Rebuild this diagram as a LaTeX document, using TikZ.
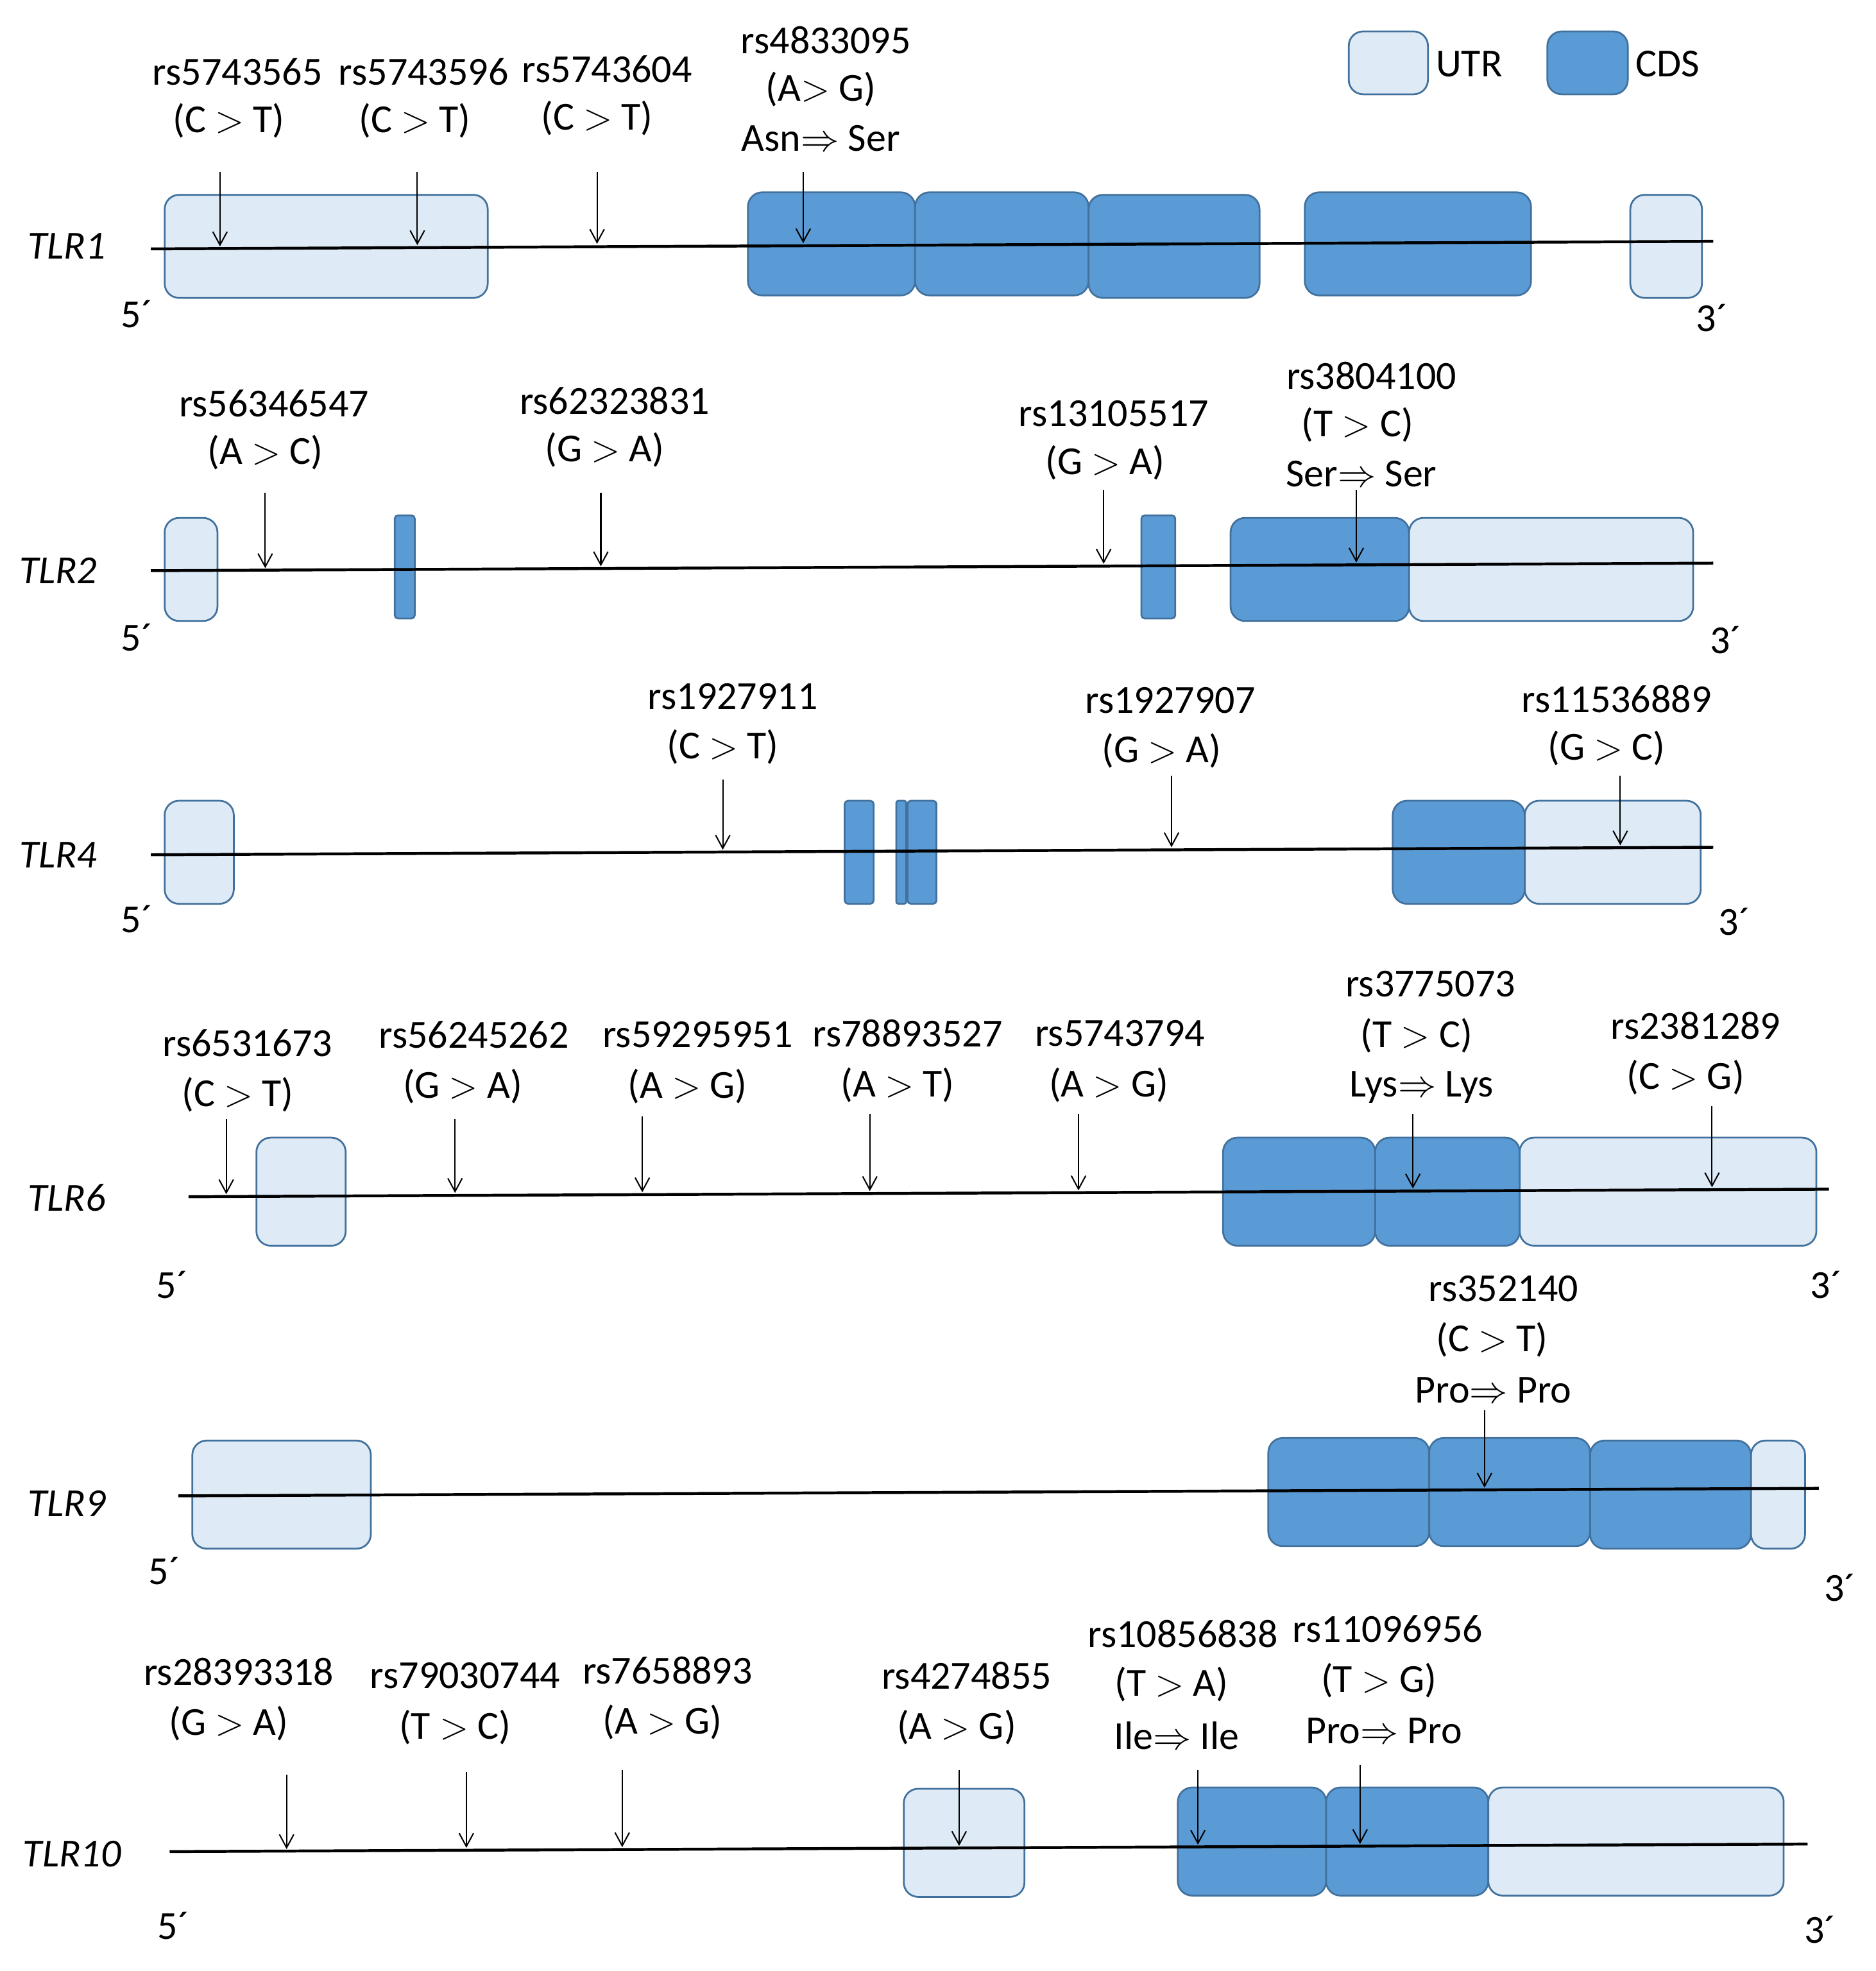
\documentclass[tikz,border=0pt]{standalone}
\usepackage{fontspec}
\setmainfont{Carlito}
\usetikzlibrary{arrows.meta}
\definecolor{utrfill}{HTML}{DEEBF7}
\definecolor{cdsfill}{HTML}{5B9BD5}
\definecolor{exonedge}{HTML}{41719C}
\tikzset{
 utr/.style={fill=utrfill, draw=exonedge, line width=0.8pt, rounded corners=6.5pt},
 cds/.style={fill=cdsfill, draw=exonedge, line width=0.8pt, rounded corners=6.5pt},
 thin/.style={rounded corners=1.5pt},
 gene/.style={line width=1.3pt, black},
 snp/.style={line width=0.6pt, -{Straight Barb[length=6pt,width=6.5pt]}},
 lbl/.style={inner sep=0pt, font=\fontsize{18}{22}\selectfont},
 gname/.style={inner sep=0pt, anchor=west, font=\fontsize{18}{22}\selectfont\itshape},
}
\newcommand\gtr{$>$}
\newcommand\snpar[4]{\coordinate (#1t) at (#2,#3); \coordinate (#1b) at (#2,#4); \draw[snp] (#1t) -- (#1b);}
\newcommand\geneline[5]{\coordinate (#1a) at (#2,#3); \coordinate (#1b) at (#4,#5); \draw[gene] (#1a) -- (#1b);}
\begin{document}
\begin{tikzpicture}[x=0.02cm,y=-0.02cm]
\useasboundingbox (0,0) rectangle (1492,1568);
% legend
\draw[utr] (1073,25) rectangle (1136,75);
\node[lbl, anchor=west] (legu) at (1142,51) {UTR};
\draw[cds] (1231,25) rectangle (1295,75);
\node[lbl, anchor=west] (legc) at (1301,51) {CDS};

% ---------- TLR1
\draw[utr] (131,155) rectangle (388,237);
\draw[cds] (595,153) rectangle (728,235);
\draw[cds] (728,153) rectangle (866,235);
\draw[cds] (866,155) rectangle (1002,237);
\draw[cds] (1038,153) rectangle (1218,235);
\draw[utr] (1297,155) rectangle (1354,237);
\geneline{g1}{120}{198}{1363}{192}
\node[gname] (n1) at (22,196) {TLR1};
\node[lbl] (p15) at (109,250) {5´};
\node[lbl] (p13) at (1362,253) {3´};
\snpar{s11}{175}{137}{196}
\snpar{s12}{332}{137}{195}
\snpar{s13}{475}{137}{194}
\snpar{s14}{639}{137}{193.5}
\node[lbl] (l11a) at (189,57) {rs5743565};
\node[lbl] (l11b) at (182,96) {(C \gtr{} T)};
\node[lbl] (l12a) at (337,57) {rs5743596};
\node[lbl] (l12b) at (330,96) {(C \gtr{} T)};
\node[lbl] (l13a) at (483,55) {rs5743604};
\node[lbl] (l13b) at (475,94) {(C \gtr{} T)};
\node[lbl] (l14a) at (657,32) {rs4833095};
\node[lbl] (l14b) at (653,71) {(A\gtr{} G)};
\node[lbl] (l14c) at (653,110) {Asn$\Rightarrow$ Ser};

% ---------- TLR2
\draw[utr] (131,412) rectangle (173,494);
\draw[cds,thin] (314,410) rectangle (330,492);
\draw[cds,thin] (908,410) rectangle (935,492);
\draw[cds] (979,412) rectangle (1121,494);
\draw[utr] (1121,412) rectangle (1347,494);
\geneline{g2}{120}{454}{1363}{448}
\node[gname] (n2) at (15,454) {TLR2};
\node[lbl] (p25) at (109,507) {5´};
\node[lbl] (p23) at (1373,509) {3´};
\snpar{s21}{211}{392}{452}
\snpar{s22}{478}{392}{450.5}
\snpar{s23}{878}{390}{448.5}
\snpar{s24}{1079}{390}{447.5}
\node[lbl] (l21a) at (218,321) {rs56346547};
\node[lbl] (l21b) at (211,360) {(A \gtr{} C)};
\node[lbl] (l22a) at (489,319) {rs62323831};
\node[lbl] (l22b) at (481,358) {(G \gtr{} A)};
\node[lbl] (l23a) at (886,329) {rs13105517};
\node[lbl] (l23b) at (879,368) {(G \gtr{} A)};
\node[lbl] (l24a) at (1091,299) {rs3804100};
\node[lbl] (l24b) at (1080,338) {(T \gtr{} C)};
\node[lbl] (l24c) at (1083,377) {Ser$\Rightarrow$ Ser};

% ---------- TLR4
\draw[utr] (131,637) rectangle (186,719);
\draw[cds,thin] (672,637) rectangle (695,719);
\draw[cds,rounded corners=1pt] (713,637) rectangle (721,719);
\draw[cds,thin] (722,637) rectangle (745,719);
\draw[cds] (1108,637) rectangle (1213,719);
\draw[utr] (1213,637) rectangle (1353,719);
\geneline{g4}{120}{680}{1363}{674}
\node[gname] (n4) at (15,680) {TLR4};
\node[lbl] (p45) at (109,731) {5´};
\node[lbl] (p43) at (1380,733) {3´};
\snpar{s41}{575}{620}{676}
\snpar{s42}{932}{617}{674}
\snpar{s43}{1289}{617}{672.5}
\node[lbl] (l41a) at (583,554) {rs1927911};
\node[lbl] (l41b) at (575,594) {(C \gtr{} T)};
\node[lbl] (l42a) at (931,557) {rs1927907};
\node[lbl] (l42b) at (924,597) {(G \gtr{} A)};
\node[lbl] (l43a) at (1286,556) {rs11536889};
\node[lbl] (l43b) at (1278,595) {(G \gtr{} C)};

% ---------- TLR6
\draw[utr] (204,905) rectangle (275,991);
\draw[cds] (973,905) rectangle (1094,991);
\draw[cds] (1094,905) rectangle (1209,991);
\draw[utr] (1209,905) rectangle (1445,991);
\geneline{g6}{150}{952}{1455}{946}
\node[gname] (n6) at (22,953) {TLR6};
\node[lbl] (p65) at (137,1022) {5´};
\node[lbl] (p63) at (1453,1022) {3´};
\snpar{s61}{180}{890}{950}
\snpar{s62}{362}{890}{949}
\snpar{s63}{511}{888}{948.5}
\snpar{s64}{692}{886}{947.5}
\snpar{s65}{858}{886}{947}
\snpar{s66}{1124}{886}{945.5}
\snpar{s67}{1362}{880}{944.5}
\node[lbl] (l61a) at (197,830) {rs6531673};
\node[lbl] (l61b) at (189,871) {(C \gtr{} T)};
\node[lbl] (l62a) at (377,823) {rs56245262};
\node[lbl] (l62b) at (368,864) {(G \gtr{} A)};
\node[lbl] (l63a) at (555,823) {rs59295951};
\node[lbl] (l63b) at (547,864) {(A \gtr{} G)};
\node[lbl] (l64a) at (722,822) {rs78893527};
\node[lbl] (l64b) at (714,863) {(A \gtr{} T)};
\node[lbl] (l65a) at (891,822) {rs5743794};
\node[lbl] (l65b) at (882,863) {(A \gtr{} G)};
\node[lbl] (l66a) at (1138,783) {rs3775073};
\node[lbl] (l66b) at (1127,824) {(T \gtr{} C)};
\node[lbl] (l66c) at (1131,865) {Lys$\Rightarrow$ Lys};
\node[lbl] (l67a) at (1349,816) {rs2381289};
\node[lbl] (l67b) at (1341,857) {(C \gtr{} G)};

% ---------- TLR9
\draw[utr] (153,1146) rectangle (295,1232);
\draw[cds] (1009,1144) rectangle (1137,1230);
\draw[cds] (1137,1144) rectangle (1265,1230);
\draw[cds] (1265,1146) rectangle (1393,1232);
\draw[utr] (1393,1146) rectangle (1436,1232);
\geneline{g9}{142}{1190}{1447}{1184}
\node[gname] (n9) at (22,1196) {TLR9};
\node[lbl] (p95) at (131,1250) {5´};
\node[lbl] (p93) at (1464,1263) {3´};
\snpar{s91}{1181}{1122}{1183.5}
\node[lbl] (l91a) at (1196,1025) {rs352140};
\node[lbl] (l91b) at (1187,1066) {(C \gtr{} T)};
\node[lbl] (l91c) at (1188,1106) {Pro$\Rightarrow$ Pro};

% ---------- TLR10
\draw[utr] (719,1423) rectangle (815,1509);
\draw[cds] (937,1422) rectangle (1055,1508);
\draw[cds] (1055,1422) rectangle (1184,1508);
\draw[utr] (1184,1422) rectangle (1419,1508);
\geneline{g10}{135}{1473}{1438}{1467}
\node[gname] (n10) at (18,1475) {TLR10};
\node[lbl] (p105) at (138,1532) {5´};
\node[lbl] (p103) at (1448,1535) {3´};
\snpar{s101}{228}{1412}{1471}
\snpar{s102}{371}{1410}{1470}
\snpar{s103}{495}{1408}{1469.5}
\snpar{s104}{763}{1408}{1468.5}
\snpar{s105}{953}{1408}{1467.5}
\snpar{s106}{1082}{1404}{1467}
\node[lbl] (l101a) at (190,1330) {rs28393318};
\node[lbl] (l101b) at (182,1371) {(G \gtr{} A)};
\node[lbl] (l102a) at (370,1333) {rs79030744};
\node[lbl] (l102b) at (362,1374) {(T \gtr{} C)};
\node[lbl] (l103a) at (531,1329) {rs7658893};
\node[lbl] (l103b) at (527,1370) {(A \gtr{} G)};
\node[lbl] (l104a) at (769,1333) {rs4274855};
\node[lbl] (l104b) at (761,1374) {(A \gtr{} G)};
\node[lbl] (l105a) at (941,1300) {rs10856838};
\node[lbl] (l105b) at (932,1340) {(T \gtr{} A)};
\node[lbl] (l105c) at (936,1381) {Ile$\Rightarrow$ Ile};
\node[lbl] (l106a) at (1104,1296) {rs11096956};
\node[lbl] (l106b) at (1097,1337) {(T \gtr{} G)};
\node[lbl] (l106c) at (1101,1377) {Pro$\Rightarrow$ Pro};
\end{tikzpicture}
\end{document}
